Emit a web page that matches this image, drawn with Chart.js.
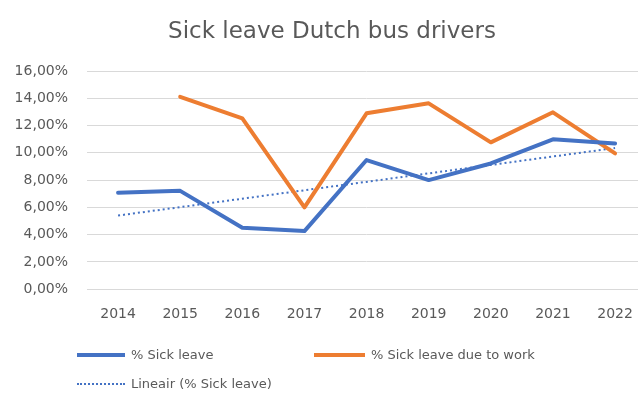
<!DOCTYPE html>
<html>
<head>
<meta charset="utf-8">
<script src="https://cdn.jsdelivr.net/npm/chart.js@4"></script>
<style>
  html, body { margin: 0; padding: 0; background: #fff; overflow: hidden; }
  body { width: 638px; height: 400px; position: relative; font-family: "DejaVu Sans", sans-serif; color: #595959; }
  #wrap { position: absolute; left: 0; top: 0; width: 650px; height: 400px; }
  #titel { position: absolute; left: 0; width: 664px; top: 15px; text-align: center; font-size: 23px; line-height: 30px; }
  .leg { position: absolute; font-size: 13px; line-height: 16px; white-space: nowrap; }
  .sw { position: absolute; height: 0; }
</style>
</head>
<body>
<div id="wrap"><canvas id="grafiek" width="650" height="400"></canvas></div>
<div id="titel">Sick leave Dutch bus drivers</div>

<div class="sw" style="left:77px; top:353px; width:48px; border-top:4px solid #4472C4;"></div>
<div class="leg" style="left:131px; top:347px;">% Sick leave</div>
<div class="sw" style="left:314px; top:353px; width:51px; border-top:4px solid #ED7D31;"></div>
<div class="leg" style="left:371px; top:347px;">% Sick leave due to work</div>
<div class="sw" style="left:77px; top:383px; width:48px; border-top:2px dotted #4472C4;"></div>
<div class="leg" style="left:131px; top:376px;">Lineair (% Sick leave)</div>

<script>
// jaren en waarden (in %)
const jaren = ['2014', '2015', '2016', '2017', '2018', '2019', '2020', '2021', '2022'];
const ziekteverzuim = [7.07, 7.21, 4.5, 4.26, 9.47, 8.0, 9.22, 10.99, 10.69];
const verzuimWerk = [null, 14.11, 12.53, 6.0, 12.9, 13.63, 10.77, 12.97, 9.96];
const trendlijn = [5.4, null, null, null, null, null, null, null, 10.35];

const grijs = '#595959';
const lijnGrijs = '#d9d9d9';

new Chart(document.getElementById('grafiek'), {
    type: 'line',
    data: {
        labels: jaren,
        datasets: [
            {
                label: 'Lineair (% Sick leave)',
                data: trendlijn,
                spanGaps: true,
                borderColor: '#4472C4',
                borderWidth: 2,
                borderDash: [2, 3],
                pointRadius: 0,
                order: 3
            },
            {
                label: '% Sick leave due to work',
                data: verzuimWerk,
                borderColor: '#ED7D31',
                borderWidth: 4,
                borderJoinStyle: 'round',
                borderCapStyle: 'round',
                pointRadius: 0,
                order: 2
            },
            {
                label: '% Sick leave',
                data: ziekteverzuim,
                borderColor: '#4472C4',
                borderWidth: 4,
                borderJoinStyle: 'round',
                borderCapStyle: 'round',
                pointRadius: 0,
                order: 1
            }
        ]
    },
    options: {
        responsive: false,
        animation: false,
        layout: { padding: { left: 0, right: 2, top: 71, bottom: 60 } },
        plugins: {
            legend: { display: false },
            title: { display: false },
            tooltip: { enabled: false }
        },
        scales: {
            x: {
                offset: true,
                grid: { display: false, drawTicks: false },
                border: { display: true, color: lijnGrijs, width: 1 },
                ticks: {
                    color: grijs,
                    font: { family: 'DejaVu Sans', size: 14 },
                    padding: 17,
                    maxRotation: 0,
                    autoSkip: false
                }
            },
            y: {
                min: 0,
                max: 16,
                afterFit: (scale) => { scale.width = 87; },
                grid: { color: lijnGrijs, lineWidth: 1, drawTicks: false },
                border: { display: false },
                ticks: {
                    stepSize: 2,
                    color: grijs,
                    padding: 19,
                    font: { family: 'DejaVu Sans', size: 14 },
                    callback: (v) => v.toFixed(2).replace('.', ',') + '%'
                }
            }
        }
    }
});
</script>
</body>
</html>
